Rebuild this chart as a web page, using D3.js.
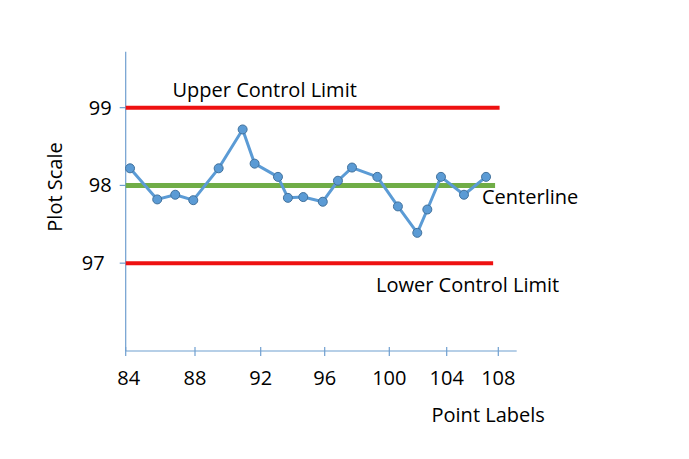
<!DOCTYPE html>
<html>
<head>
<meta charset="utf-8">
<script src="https://cdn.jsdelivr.net/npm/d3@7"></script>
<style>
  html, body { margin: 0; padding: 0; background: #fff; }
  svg { display: block; font-family: "Open Sans", Lato, sans-serif; }
</style>
</head>
<body>
<svg id="chart" width="689" height="459"></svg>
<script>
// valores
const xValues = [84.25, 85.82, 86.86, 87.9, 89.44, 90.9, 91.63, 93.08, 93.7, 94.66,
                 95.88, 96.82, 97.69, 99.26, 100.6, 101.95, 102.65, 103.6, 105.34, 107.05];
const yValues = [98.22, 97.82, 97.88, 97.81, 98.22, 98.72, 98.28, 98.11, 97.84, 97.85,
                 97.79, 98.06, 98.23, 98.11, 97.73, 97.39, 97.69, 98.11, 97.88, 98.11];
const xTicks = [84, 88, 92, 96, 100, 104, 108];
const yTicks = [97, 98, 99];
const limitNames = ["Upper Control Limit", "Centerline", "Lower Control Limit"];
const limitValues = [99, 98, 97];
const limitEnds = [108.1, 107.75, 107.6];

// layout
const PLOT = { left: 125.7, top: 51.7, right: 516.7, bottom: 351 };
const X_TICK_OFFSETS = [0, 69.3, 135, 199, 263.6, 321, 372.6]; // eixo desenhado à mão, espacamento irregular
const LIMIT_COLORS = ["#ee1111", "#70ad47", "#ee1111"];
const LIMIT_WIDTHS = [4, 5, 4];
const AXIS_COLOR = "#6f9fd0";
const FONT = 20;

const svg = d3.select("#chart");

const x = d3.scaleLinear()
  .domain(xTicks)
  .range(X_TICK_OFFSETS.map((o) => PLOT.left + o));
const y = d3.scaleLinear().domain([95.87, 99.72]).range([PLOT.bottom, PLOT.top]);

// eixos
const gx = svg.append("g").attr("transform", `translate(0,${PLOT.bottom})`);
gx.append("line")
  .attr("x1", PLOT.left).attr("x2", PLOT.right)
  .attr("stroke", AXIS_COLOR).attr("stroke-width", 1.2);
gx.selectAll("line.tick").data(xTicks).join("line")
  .attr("class", "tick")
  .attr("x1", (d) => x(d)).attr("x2", (d) => x(d))
  .attr("y1", -4).attr("y2", 5)
  .attr("stroke", AXIS_COLOR).attr("stroke-width", 1.2);
gx.selectAll("text").data(xTicks).join("text")
  .attr("x", (d) => x(d) + (d === 84 ? 3 : 0))
  .attr("y", 34)
  .attr("text-anchor", "middle")
  .attr("font-size", FONT)
  .attr("fill", "#000")
  .text((d) => d);

const gy = svg.append("g").attr("transform", `translate(${PLOT.left},0)`);
gy.append("line")
  .attr("y1", PLOT.top).attr("y2", PLOT.bottom)
  .attr("stroke", AXIS_COLOR).attr("stroke-width", 1.2);
gy.selectAll("line.tick").data(yTicks).join("line")
  .attr("class", "tick")
  .attr("x1", -6).attr("x2", 0)
  .attr("y1", (d) => y(d)).attr("y2", (d) => y(d))
  .attr("stroke", AXIS_COLOR).attr("stroke-width", 1.2);
gy.selectAll("text").data(yTicks).join("text")
  .attr("x", (d) => (d === 97 ? -21 : -14))
  .attr("y", (d) => y(d) + 7)
  .attr("text-anchor", "end")
  .attr("font-size", FONT)
  .attr("fill", "#000")
  .text((d) => d);

// linhas de controle
const limits = limitValues.map((v, i) => ({ v, end: limitEnds[i], name: limitNames[i], i }));
svg.append("g").selectAll("line").data(limits).join("line")
  .attr("x1", x(84)).attr("x2", (d) => x(d.end))
  .attr("y1", (d) => y(d.v)).attr("y2", (d) => y(d.v))
  .attr("stroke", (d) => LIMIT_COLORS[d.i])
  .attr("stroke-width", (d) => LIMIT_WIDTHS[d.i]);

// serie
const pts = xValues.map((xv, i) => ({ x: xv, y: yValues[i] }));
const line = d3.line().x((d) => x(d.x)).y((d) => y(d.y));
svg.append("path")
  .datum(pts)
  .attr("d", line)
  .attr("fill", "none")
  .attr("stroke", "#5b9bd5")
  .attr("stroke-width", 3)
  .attr("stroke-linejoin", "round");
svg.append("g").selectAll("circle").data(pts).join("circle")
  .attr("cx", (d) => x(d.x))
  .attr("cy", (d) => y(d.y))
  .attr("r", 4.5)
  .attr("fill", "#5b9bd5")
  .attr("stroke", "#41719c")
  .attr("stroke-width", 1);

// rotulos
const labelPos = [
  { x: 172.5, y: 96.7 },
  { x: 482, y: 204 },
  { x: 376, y: 291.7 },
];
svg.append("g").selectAll("text").data(limits).join("text")
  .attr("x", (d) => labelPos[d.i].x)
  .attr("y", (d) => labelPos[d.i].y)
  .attr("font-size", FONT)
  .attr("fill", "#000")
  .text((d) => d.name);

svg.append("text")
  .attr("x", 431.5).attr("y", 421.7)
  .attr("font-size", FONT)
  .attr("fill", "#000")
  .text("Point Labels");

svg.append("text")
  .attr("transform", "translate(62,187) rotate(-90)")
  .attr("text-anchor", "middle")
  .attr("font-size", FONT)
  .attr("fill", "#000")
  .text("Plot Scale");
</script>
</body>
</html>
